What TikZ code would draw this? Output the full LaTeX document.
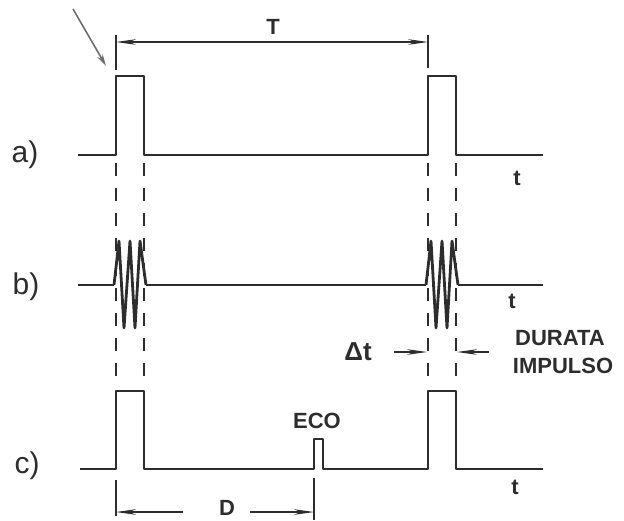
\documentclass[tikz,border=0pt]{standalone}
\usepackage{fontspec}
\setmainfont{Liberation Sans}
\usetikzlibrary{arrows.meta,positioning}
\definecolor{inkgray}{RGB}{45,45,45}
\definecolor{pointergray}{RGB}{110,110,110}

\begin{document}
\begin{tikzpicture}[x=0.5pt,y=-0.5pt,
    signal/.style={inkgray,line width=1.4pt,line join=round},
    guide/.style={inkgray,line width=0.8pt,dash pattern=on 6.5pt off 6pt},
    dimline/.style={inkgray,line width=0.6pt},
    dimtip/.style={-{Stealth[length=10pt,width=2.8pt]}},
    label/.style={inkgray,font=\fontsize{11}{13}\selectfont\bfseries},
    rowlabel/.style={inkgray,font=\fontsize{15}{17}\selectfont}]
    \useasboundingbox (0,0) rectangle (624,520);
    % a) transmitted pulses
    \draw[signal] (78,155) -- (116,155) -- (116,76) -- (144,76) -- (144,155)
      -- (428,155) -- (428,76) -- (456,76) -- (456,155) -- (543,155);
    % b) oscillating bursts
    \draw[signal] (78,285) -- (114,285);
    \draw[signal] (146,285) -- (426,285);
    \draw[signal] (458,285) -- (543,285);
    \foreach \s in {0,312} {
      \draw[signal] (114+\s,285) -- (119+\s,241) -- (124+\s,328) -- (130+\s,241)
        -- (135+\s,328) -- (140+\s,241) -- (146+\s,285);
    }
    % c) pulses with echo
    \draw[signal] (80,469) -- (116,469) -- (116,391) -- (144,391) -- (144,469)
      -- (314,469) -- (314,439) -- (323,439) -- (323,469)
      -- (428,469) -- (428,391) -- (456,391) -- (456,469) -- (543,469);
    % dashed guides
    \foreach \x in {116,144,428,456} \draw[guide] (\x,163) -- (\x,387);
    % period T
    \coordinate (Tleft) at (116,42);
    \coordinate (Tright) at (428,42);
    \draw[dimline] (116,35) -- (116,70);
    \draw[dimline] (428,35) -- (428,68);
    \draw[dimline,{Stealth[length=10pt,width=2.8pt]}-{Stealth[length=10pt,width=2.8pt]}] (Tleft) -- (Tright);
    \node[label] (lblT) at (273,27) {T};
    % pointer to first pulse
    \coordinate (ptrfrom) at (73,9);
    \coordinate (ptrto) at (106,66);
    \draw[pointergray,line width=0.8pt,-{Stealth[length=6pt,width=3pt]}] (ptrfrom) -- (ptrto);
    % distance D to echo
    \draw[dimline] (116,480) -- (116,516);
    \draw[dimline] (314,478) -- (314,520);
    \node[label] (lblD) at (227,508) {D};
    \coordinate (Dleft) at (116,512);
    \coordinate (Dright) at (314,512);
    \draw[dimline,dimtip] (183,512) -- (Dleft);
    \draw[dimline,dimtip] (250,512) -- (Dright);
    \node[label] (lblEco) at (317,421) {ECO};
    % pulse duration
    \node[label,font=\fontsize{13}{15}\selectfont\bfseries] (lblDelta) at (358,352) {Δt};
    \coordinate (dtleft) at (427,352);
    \coordinate (dtright) at (457,352);
    \draw[dimline,dimtip] (394,352) -- (dtleft);
    \draw[dimline,dimtip] (489,352) -- (dtright);
    \node[label] (lblDurata) at (560,338) {DURATA};
    \node[label] (lblImpulso) at (563,366) {IMPULSO};
    % time axes
    \node[label] (ta) at (517,178) {t};
    \node[label] (tb) at (512,301) {t};
    \node[label] (tc) at (515,487) {t};
    % row labels
    \node[rowlabel] (rowa) at (25,155) {a)};
    \node[rowlabel] (rowb) at (26,287) {b)};
    \node[rowlabel] (rowc) at (27,466) {c)};
\end{tikzpicture}
\end{document}
